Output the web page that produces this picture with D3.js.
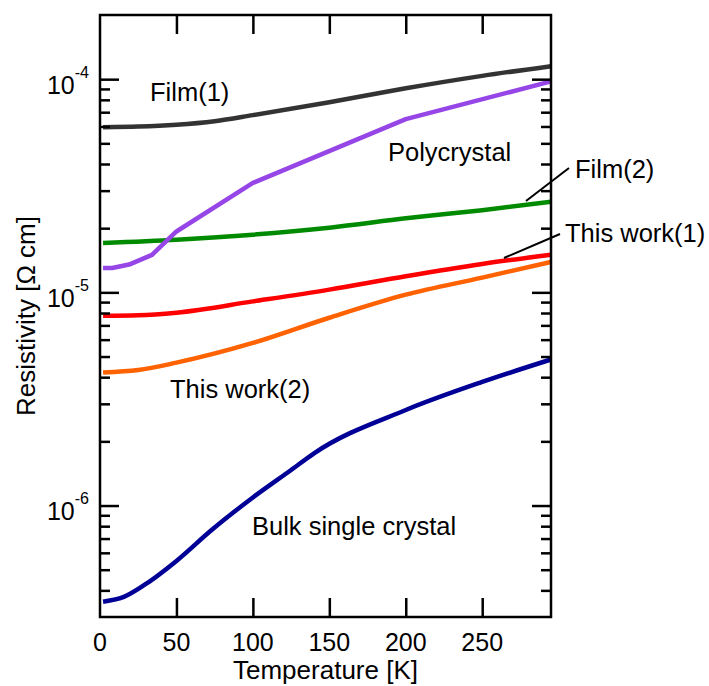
<!DOCTYPE html>
<html>
<head>
<meta charset="utf-8">
<script src="https://cdn.jsdelivr.net/npm/d3@7"></script>
<style>
  html, body { margin: 0; padding: 0; background: #fff; }
  svg { display: block; font-family: "Liberation Sans", Arial, Helvetica, sans-serif; }
</style>
</head>
<body>
<svg id="chart" width="709" height="686"></svg>
<script>
// Resistivity vs temperature, [T (K), rho (Ω cm)]
const film1 = [[2,5.95e-5],[25,5.99e-5],[50,6.11e-5],[75,6.35e-5],[100,6.78e-5],[150,7.80e-5],[200,9.06e-5],[250,1.036e-4],[295,1.151e-4]];
const polycrystal = [[2,1.30e-5],[8,1.30e-5],[19,1.35e-5],[34,1.50e-5],[50,1.93e-5],[100,3.26e-5],[200,6.5e-5],[295,9.76e-5]];
const film2 = [[2,1.705e-5],[50,1.767e-5],[100,1.865e-5],[150,2.011e-5],[200,2.224e-5],[250,2.43e-5],[295,2.663e-5]];
const thisWork1 = [[2,7.77e-6],[25,7.81e-6],[50,8.03e-6],[100,9.07e-6],[150,1.03e-5],[200,1.19e-5],[250,1.359e-5],[295,1.502e-5]];
const thisWork2 = [[2,4.21e-6],[25,4.32e-6],[50,4.68e-6],[100,5.79e-6],[150,7.6e-6],[200,9.75e-6],[250,1.173e-5],[295,1.389e-5]];
const bulkCrystal = [[2,3.54e-7],[16,3.74e-7],[29,4.24e-7],[50,5.5e-7],[73,7.68e-7],[100,1.091e-6],[125,1.468e-6],[140,1.758e-6],[200,2.806e-6],[250,3.80e-6],[295,4.843e-6]];

const seriesNames = ["Film(1)", "Polycrystal", "Film(2)", "This work(1)", "This work(2)", "Bulk single crystal"];
const seriesColors = ["#333333", "#9645e6", "#008a00", "#ff0000", "#ff6200", "#000096"];

const xTicks = [0, 50, 100, 150, 200, 250];
const yMajorTicks = [1e-6, 1e-5, 1e-4];
const yMajorExp = ["-6", "-5", "-4"];
const yMinorTicks = [4e-7,5e-7,6e-7,7e-7,8e-7,9e-7,2e-6,3e-6,4e-6,5e-6,6e-6,7e-6,8e-6,9e-6,2e-5,3e-5,4e-5,5e-5,6e-5,7e-5,8e-5,9e-5];

const xLabel = "Temperature [K]";
const yLabel = "Resistivity [Ω cm]";

const plot = { left: 100, right: 551, top: 15, bottom: 617 };
const svg = d3.select("#chart");

const x = d3.scaleLinear().domain([0, 295]).range([plot.left, plot.right]);
const y = d3.scaleLog().domain([3e-7, 2e-4]).range([plot.bottom, plot.top]);

const axisStroke = 2.5;
function styleAxis(g) {
  g.select(".domain").remove();
  g.selectAll(".tick line").attr("stroke", "#000").attr("stroke-width", axisStroke);
  g.selectAll(".tick text").remove();
}

// Curves: the polycrystal trace is piecewise linear, the others smooth
const smoothLine = d3.line().x(d => x(d[0])).y(d => y(d[1])).curve(d3.curveMonotoneX);
const straightLine = d3.line().x(d => x(d[0])).y(d => y(d[1]));
const allSeries = [film1, polycrystal, film2, thisWork1, thisWork2, bulkCrystal];
const drawOrder = [5, 4, 3, 2, 1, 0];
svg.append("g").selectAll("path")
  .data(drawOrder)
  .join("path")
  .attr("d", i => (i === 1 ? straightLine : smoothLine)(allSeries[i]))
  .attr("fill", "none")
  .attr("stroke", i => seriesColors[i])
  .attr("stroke-width", 4.5)
  .attr("stroke-linejoin", "round");

// Ticks, all pointing into the plot
svg.append("g").attr("transform", `translate(0,${plot.bottom})`)
  .call(d3.axisBottom(x).tickValues(xTicks.slice(1)).tickSize(-19)).call(styleAxis);
svg.append("g").attr("transform", `translate(0,${plot.top})`)
  .call(d3.axisTop(x).tickValues(xTicks.slice(1)).tickSize(-19)).call(styleAxis);
svg.append("g").attr("transform", `translate(${plot.left},0)`)
  .call(d3.axisLeft(y).tickValues(yMajorTicks).tickSize(-19)).call(styleAxis);
svg.append("g").attr("transform", `translate(${plot.left},0)`)
  .call(d3.axisLeft(y).tickValues(yMinorTicks).tickSize(-10)).call(styleAxis);
svg.append("g").attr("transform", `translate(${plot.right},0)`)
  .call(d3.axisRight(y).tickValues(yMajorTicks).tickSize(-19)).call(styleAxis);
svg.append("g").attr("transform", `translate(${plot.right},0)`)
  .call(d3.axisRight(y).tickValues(yMinorTicks).tickSize(-10)).call(styleAxis);

// Frame
svg.append("rect")
  .attr("x", plot.left).attr("y", plot.top)
  .attr("width", plot.right - plot.left).attr("height", plot.bottom - plot.top)
  .attr("fill", "none").attr("stroke", "#000").attr("stroke-width", axisStroke);

// X tick labels
svg.append("g").selectAll("text")
  .data(xTicks)
  .join("text")
  .attr("x", d => x(d)).attr("y", plot.bottom + 34)
  .attr("text-anchor", "middle")
  .attr("font-size", 25)
  .text(d => d);

// Y tick labels with powers of ten
const yLab = svg.append("g").selectAll("text")
  .data(yMajorTicks)
  .join("text")
  .attr("x", 89).attr("y", d => y(d) + 14.5)
  .attr("text-anchor", "end")
  .attr("font-size", 25);
yLab.append("tspan").text("10");
yLab.append("tspan").attr("dy", -16).attr("font-size", 16).text((d, i) => yMajorExp[i]);

// Axis titles
svg.append("text")
  .attr("x", (plot.left + plot.right) / 2).attr("y", 679)
  .attr("text-anchor", "middle").attr("font-size", 26)
  .text(xLabel);
svg.append("text")
  .attr("transform", `translate(35,${(plot.top + plot.bottom) / 2}) rotate(-90)`)
  .attr("text-anchor", "middle").attr("font-size", 26)
  .text(yLabel);

// Curve labels
const labelPos = [[150, 101], [388, 161], [575, 178], [565, 242], [170, 398], [252, 535]];
svg.append("g").selectAll("text")
  .data(seriesNames)
  .join("text")
  .attr("x", (d, i) => labelPos[i][0]).attr("y", (d, i) => labelPos[i][1])
  .attr("font-size", 25.5)
  .text(d => d);

// Leader lines for labels outside the frame
const leaders = [[526, 201, 569, 168], [504, 258, 560, 234]];
svg.append("g").selectAll("line")
  .data(leaders)
  .join("line")
  .attr("x1", d => d[0]).attr("y1", d => d[1])
  .attr("x2", d => d[2]).attr("y2", d => d[3])
  .attr("stroke", "#000").attr("stroke-width", 2);
</script>
</body>
</html>
